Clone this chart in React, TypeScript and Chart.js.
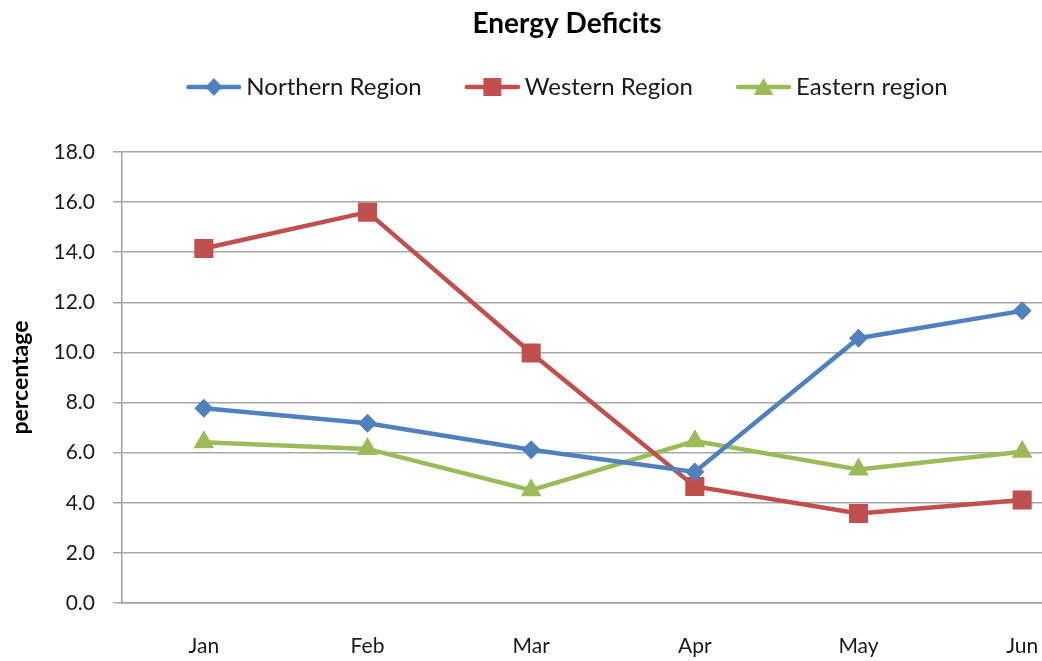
import React, { useEffect, useRef } from "react";
import { Chart, registerables } from "chart.js";

Chart.register(...registerables);

const categories = ["Jan", "Feb", "Mar", "Apr", "May", "Jun"];
const northern = [7.77, 7.17, 6.12, 5.23, 10.57, 11.66];
const western = [14.15, 15.6, 9.98, 4.65, 3.57, 4.11];
const eastern = [6.42, 6.15, 4.5, 6.46, 5.33, 6.04];
const yTicks = [0, 2, 4, 6, 8, 10, 12, 14, 16, 18];

const BLUE = "#4F81BD";
const RED = "#C0504D";
const GREEN = "#9BBB59";
const FONT = "Lato, 'Open Sans', sans-serif";

function legendImage(color: string, shape: string): HTMLCanvasElement {
  const c = document.createElement("canvas");
  c.width = 62;
  c.height = 24;
  const ctx = c.getContext("2d")!;
  ctx.strokeStyle = color;
  ctx.lineWidth = 4.5;
  ctx.lineCap = "round";
  ctx.beginPath();
  ctx.moveTo(9, 12);
  ctx.lineTo(60, 12);
  ctx.stroke();
  ctx.fillStyle = color;
  const cx = 34.5;
  const cy = 12;
  ctx.beginPath();
  if (shape === "diamond") {
    ctx.moveTo(cx, cy - 9);
    ctx.lineTo(cx + 8.5, cy);
    ctx.lineTo(cx, cy + 9);
    ctx.lineTo(cx - 8.5, cy);
  } else if (shape === "square") {
    ctx.rect(cx - 9, cy - 9, 18, 18);
  } else {
    ctx.moveTo(cx, cy - 9);
    ctx.lineTo(cx + 10, cy + 8);
    ctx.lineTo(cx - 10, cy + 8);
  }
  ctx.closePath();
  ctx.fill();
  return c;
}

export default function App() {
  const ref = useRef<HTMLCanvasElement | null>(null);

  useEffect(() => {
    document.body.style.margin = "0";
    const imgs = [
      legendImage(BLUE, "diamond"),
      legendImage(RED, "square"),
      legendImage(GREEN, "triangle"),
    ];
    const chart = new Chart(ref.current!, {
      type: "line",
      data: {
        labels: categories,
        datasets: [
          {
            label: "Northern Region",
            data: northern,
            borderColor: BLUE,
            backgroundColor: BLUE,
            borderWidth: 4.5,
            pointStyle: "rectRot",
            pointRadius: 9.5,
            pointBorderWidth: 0,
            tension: 0,
          },
          {
            label: "Western Region",
            data: western,
            borderColor: RED,
            backgroundColor: RED,
            borderWidth: 4.5,
            pointStyle: "rect",
            pointRadius: 13.5,
            pointBorderWidth: 0,
            tension: 0,
          },
          {
            label: "Eastern region",
            data: eastern,
            borderColor: GREEN,
            backgroundColor: GREEN,
            borderWidth: 4.5,
            pointStyle: "triangle",
            pointRadius: 12,
            pointBorderWidth: 0,
            tension: 0,
          },
        ],
      },
      options: {
        responsive: false,
        animation: false,
        layout: { padding: { left: 30, right: 28, top: 0, bottom: 0 } },
        plugins: {
          title: {
            display: true,
            text: "Energy Deficits",
            color: "#000",
            font: { family: FONT, size: 28, weight: "bold", lineHeight: 1 },
            padding: { top: 10, bottom: -6 },
          },
          subtitle: {
            display: true,
            text: "",
            weight: 500,
            font: { size: 10, lineHeight: 1 },
            padding: { top: 33, bottom: 0 },
          },
          legend: {
            display: true,
            position: "top",
            labels: {
              usePointStyle: true,
              pointStyleWidth: 48,
              padding: 43,
              color: "#1a1a1a",
              font: { family: FONT, size: 24 },
              generateLabels: (ch: any) =>
                ch.data.datasets.map((ds: any, i: number) => ({
                  text: ds.label,
                  pointStyle: imgs[i],
                  fillStyle: ds.borderColor,
                  strokeStyle: ds.borderColor,
                  lineWidth: 0,
                  hidden: false,
                  datasetIndex: i,
                  fontColor: "#1a1a1a",
                })),
            },
          },
          tooltip: { enabled: false },
        },
        scales: {
          x: {
            offset: true,
            grid: { display: false, drawTicks: false },
            border: { display: true, color: "#a0a0a0", width: 1.5 },
            ticks: {
              color: "#1a1a1a",
              font: { family: FONT, size: 21 },
              padding: 31,
              maxRotation: 0,
              autoSkip: false,
            },
            afterFit: (axis: any) => {
              axis.height = 58;
            },
          },
          y: {
            min: 0,
            max: 18,
            afterBuildTicks: (axis: any) => {
              axis.ticks = yTicks.map((v) => ({ value: v }));
            },
            afterFit: (axis: any) => {
              axis.width = 92;
            },
            grid: {
              color: "#a6a6a6",
              lineWidth: 1.5,
              tickLength: 9,
              drawTicks: true,
            },
            border: { display: true, color: "#a0a0a0", width: 1.5 },
            ticks: {
              color: "#1a1a1a",
              font: { family: FONT, size: 21 },
              padding: 18,
              callback: (v: any) => Number(v).toFixed(1),
            },
            title: {
              display: true,
              text: "percentage",
              color: "#000",
              font: { family: FONT, size: 23, weight: "bold" },
              padding: { top: -23, bottom: 0 },
            },
          },
        },
      },
    });
    return () => chart.destroy();
  }, []);

  return (
    <div
      style={{
        position: "fixed",
        left: 0,
        top: 0,
        width: 1042,
        height: 661,
        overflow: "hidden",
        background: "#fff",
      }}
    >
      <canvas ref={ref} width={1132} height={661} style={{ width: 1132, height: 661, display: "block" }} />
    </div>
  );
}
